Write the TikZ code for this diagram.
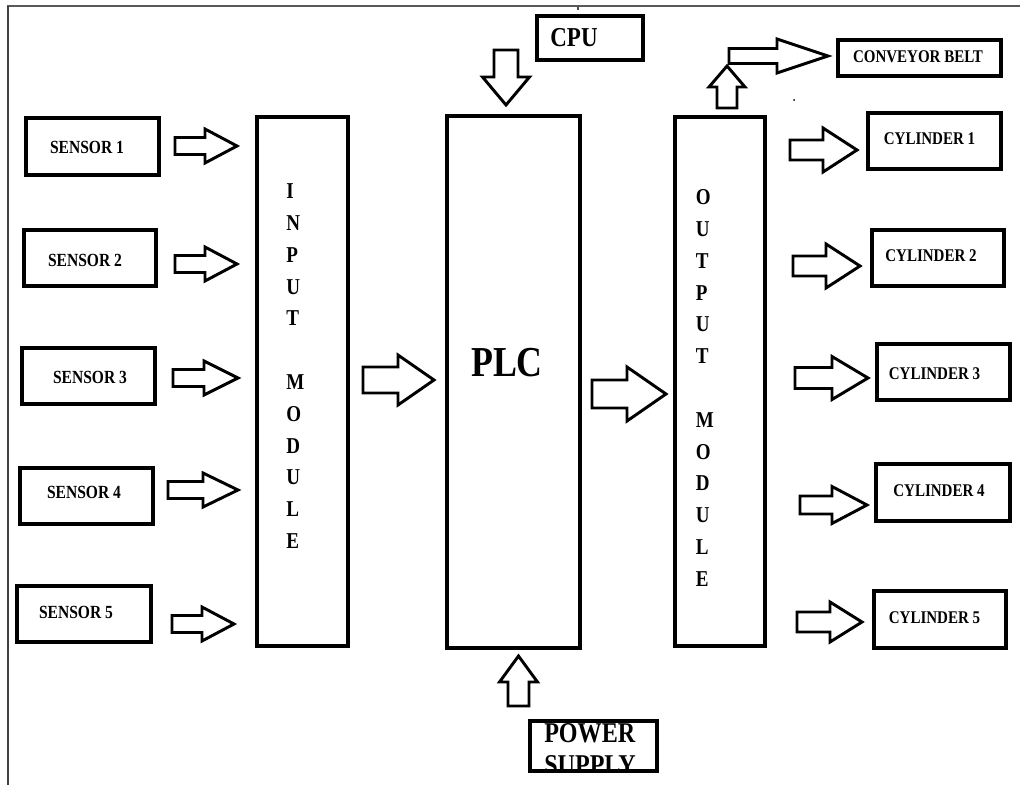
\documentclass[tikz,border=0pt]{standalone}
\usepackage{fontspec}
\newfontfamily\labelfont{Liberation Serif}[FakeStretch=0.84]

% rectangle node given its outer corners (in px units)
\newcommand\plainbox[5]{%
  \node[box, minimum width={(#4-#2-4)*0.75pt}, minimum height={(#5-#3-4)*0.75pt}]
    (#1) at ({(#2+#4)/2},{(#3+#5)/2}) {};}

\tikzset{
  pics/blockarrow/.style args={#1/#2/#3/#4}{code={%
    \draw[arrowline] (0,-#3) -- ({#1-#2},-#3) -- ({#1-#2},-#4) -- (#1,0)
      -- ({#1-#2},#4) -- ({#1-#2},#3) -- (0,#3) -- cycle;}}
}

\begin{document}
\begin{tikzpicture}[x=0.75pt,y=-0.75pt,
  box/.style={draw, line width=3pt, inner sep=0pt},
  arrowline/.style={draw, line width=2.2pt, line join=miter, fill=white},
  small/.style={inner sep=0pt, font=\labelfont\bfseries\fontsize{13.4}{16}\selectfont},
  sens/.style={inner sep=0pt, font=\labelfont\bfseries\fontsize{13.9}{16}\selectfont},
  big/.style={inner sep=0pt, font=\labelfont\bfseries\fontsize{20.5}{24}\selectfont},
  huge/.style={inner sep=0pt, font=\labelfont\bfseries\fontsize{32}{36}\selectfont},
  power/.style={inner sep=0pt, font=\labelfont\bfseries\fontsize{21.5}{24}\selectfont},
  column/.style={inner sep=0pt, align=left, anchor=north west,
    font=\labelfont\bfseries\fontsize{17}{23.85}\selectfont}
]
\useasboundingbox (0,0) rectangle (1020,785);

% page frame
\draw[line width=1.5pt, black!65] (7,6) -- (1020,6);
\draw[line width=1.5pt, black!75] (8,6) -- (8,785);
\draw[line width=1.5pt, black!70] (578,7) -- (578,10);
\fill (794,100) circle (1);

% sensors
\plainbox{s1}{24}{116}{161}{177}
\plainbox{s2}{22}{228}{158}{288}
\plainbox{s3}{20}{346}{157}{406}
\plainbox{s4}{18}{466}{155}{526}
\plainbox{s5}{15}{584}{153}{644}
\node[sens] (t1) at (87,147) {SENSOR 1};
\node[sens] (t2) at (85,260) {SENSOR 2};
\node[sens] (t3) at (90,377) {SENSOR 3};
\node[sens] (t4) at (84,492) {SENSOR 4};
\node[sens] (t5) at (76,612) {SENSOR 5};

% modules and PLC
\plainbox{inmod}{255}{115}{350}{648}
\plainbox{plc}{445}{114}{582}{650}
\plainbox{outmod}{673}{115}{767}{648}
\node[column] (intext) at (286,183.5) {I\\N\\P\\U\\T\\[23.85pt]M\\O\\D\\U\\L\\E};
\node[column] (outtext) at (695.5,189.5) {O\\U\\T\\P\\U\\T\\[23.85pt]M\\O\\D\\U\\L\\E};
\node[huge] (plctext) at (507,363) {PLC};

% CPU
\plainbox{cpu}{535}{14}{645}{62}
\node[big] (cputext) at (574,38) {CPU};

% conveyor belt and cylinders
\plainbox{conv}{836}{38}{1003}{78}
\node[small] (convtext) at (918,57) {CONVEYOR BELT};
\plainbox{c1}{866}{111}{1003}{171}
\plainbox{c2}{870}{228}{1006}{288}
\plainbox{c3}{875}{342}{1012}{402}
\plainbox{c4}{874}{462}{1012}{523}
\plainbox{c5}{872}{589}{1008}{650}
\node[small] (ct1) at (929.5,139) {CYLINDER 1};
\node[small] (ct2) at (931,256) {CYLINDER 2};
\node[small] (ct3) at (934.5,374) {CYLINDER 3};
\node[small] (ct4) at (939,491) {CYLINDER 4};
\node[small] (ct5) at (934.5,618) {CYLINDER 5};

% power supply (second line runs into the frame)
\begin{scope}
  \clip (530,721) rectangle (657,771);
  \node[power, anchor=base west] (pw1) at (544,742) {POWER};
  \node[power, anchor=base west] (pw2) at (544,774) {SUPPLY};
\end{scope}
\plainbox{psu}{528}{719}{659}{773}

% block arrows: length / head length / shaft half-width / head half-width
\pic at (175,146) {blockarrow=62/32/8.5/17};
\pic at (175,264) {blockarrow=62/32/8.5/17};
\pic at (173,378) {blockarrow=65/34/8.5/17};
\pic at (168,490) {blockarrow=70/35/8.5/17};
\pic at (172,624) {blockarrow=62/32/8.5/17};
\pic at (363,380) {blockarrow=71/36/13/25};
\pic at (592,394) {blockarrow=74/39/14/27};
\pic at (790,150) {blockarrow=67/34/10/22};
\pic at (793,266) {blockarrow=67/34/10/22};
\pic at (795,378) {blockarrow=73/36/10.5/21.5};
\pic at (800,505) {blockarrow=67/35/9/18.5};
\pic at (797,622) {blockarrow=65/32/10/20};
\pic[rotate=90] at (727,108) {blockarrow=42/21/10/18};
\pic at (729,56) {blockarrow=99/51/7.5/17};
\pic[rotate=90] at (518.5,706) {blockarrow=50/26/10.5/19};
\pic[rotate=-90] at (506,50) {blockarrow=55/28/12/23.5};
\end{tikzpicture}
\end{document}
